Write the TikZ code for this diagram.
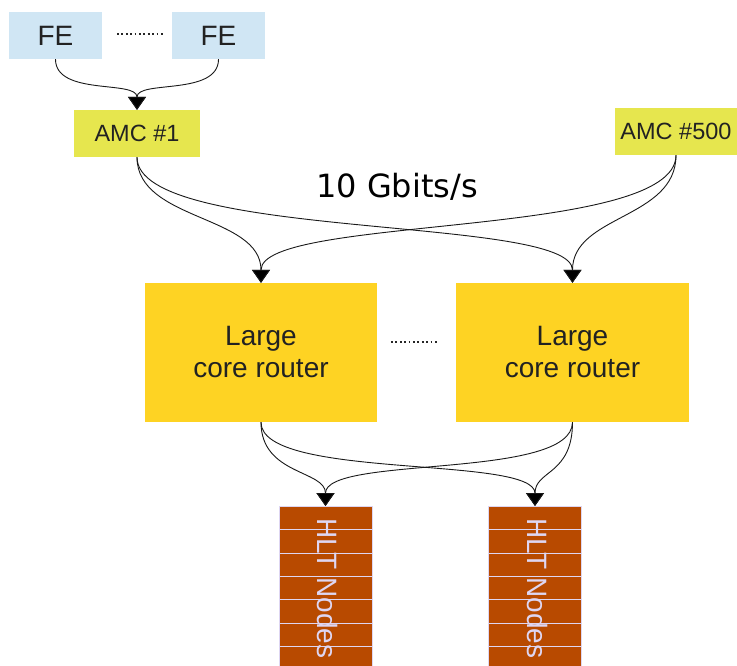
\documentclass[tikz,border=0pt]{standalone}
\usepackage{fontspec}
\setmainfont{Liberation Sans}
\newfontfamily\djv{DejaVu Sans}
\usetikzlibrary{arrows.meta}
\definecolor{feblue}{RGB}{208,230,244}
\definecolor{amcyel}{RGB}{230,230,78}
\definecolor{routeryel}{RGB}{254,211,35}
\definecolor{hltred}{RGB}{184,74,0}
\definecolor{hltline}{RGB}{222,214,242}
\definecolor{txtdark}{RGB}{34,34,34}
\tikzset{
  box/.style={fill=#1, inner sep=0pt, text=txtdark},
  febox/.style={box=feblue, minimum width=93pt, minimum height=47pt, font=\fontsize{28}{32}\selectfont},
  amcbox/.style={box=amcyel, minimum height=47pt, font=\fontsize{23.5}{28}\selectfont},
  routerbox/.style={box=routeryel, minimum width=232pt, minimum height=139pt, align=center, font=\fontsize{28}{32}\selectfont},
  hltrow/.style={fill=hltred, draw=hltline, line width=1pt, minimum width=93pt, minimum height=23.3pt, inner sep=0pt, anchor=north},
  hlttext/.style={rotate=-90, text=hltline, font=\fontsize{28}{32}\selectfont, inner sep=0pt},
  conn/.style={draw=black!90, line width=0.9pt, -{Triangle[width=18pt,length=13pt,fill=black]}},
  dots/.style={line width=1.6pt, dash pattern=on 1.8pt off 2.6pt, black!85}
}
\begin{document}
\begin{tikzpicture}[x=1pt,y=-1pt]
\useasboundingbox (0,0) rectangle (737,666);
% FE
\node[febox] (fe1) at (55.5,35.5) {FE};
\node[febox] (fe2) at (218.5,35.5) {FE};
\coordinate (d1a) at (117,34);
\coordinate (d1b) at (163,34);
\draw[dots] (d1a) -- (d1b);
% AMC
\node[amcbox, minimum width=126pt] (amc1) at (137,133.5) {AMC \#1};
\node[amcbox, minimum width=122pt] (amc2) at (676,131.5) {AMC \#500};
% label
\node[anchor=base, inner sep=0pt, font=\djv\fontsize{32}{36}\selectfont] (rate) at (397,197) {10 Gbits/s};
% routers
\node[routerbox] (r1) at (261,352.5) {Large\\core router};
\node[routerbox, minimum width=233pt] (r2) at (572.5,352.5) {Large\\core router};
\coordinate (d2a) at (391,342);
\coordinate (d2b) at (437,342);
\draw[dots] (d2a) -- (d2b);
% HLT stacks
\foreach \i in {0,...,6}{
  \node[hltrow] (hA\i) at (325.5,506+23.3*\i) {};
  \node[hltrow] (hB\i) at (535,506+23.3*\i) {};
}
\node[hlttext] (tA) at (328,588.5) {HLT Nodes};
\node[hlttext] (tB) at (537.5,588.5) {HLT Nodes};
% connectors FE -> AMC
\draw[conn] (fe1.south) .. controls +(0,37) and +(0,-30) .. (amc1.north);
\draw[conn] (fe2.south) .. controls +(0,37) and +(0,-30) .. (amc1.north);
% AMC -> routers
\draw[conn] (amc1.south) .. controls +(0,64) and +(0,-68) .. (r1.north);
\draw[conn] (amc1.south) .. controls +(0,84) and +(0,-68) .. (r2.north);
\draw[conn] (amc2.south) .. controls +(0,64) and +(0,-68) .. (r2.north);
\draw[conn] (amc2.south) .. controls +(0,84) and +(0,-68) .. (r1.north);
% routers -> HLT
\draw[conn] (r1.south) .. controls +(0,53) and +(0,-36) .. (hA0.north);
\draw[conn] (r1.south) .. controls +(0,58) and +(0,-51) .. (hB0.north);
\draw[conn] (r2.south) .. controls +(0,53) and +(0,-36) .. (hB0.north);
\draw[conn] (r2.south) .. controls +(0,58) and +(0,-51) .. (hA0.north);
\end{tikzpicture}
\end{document}
